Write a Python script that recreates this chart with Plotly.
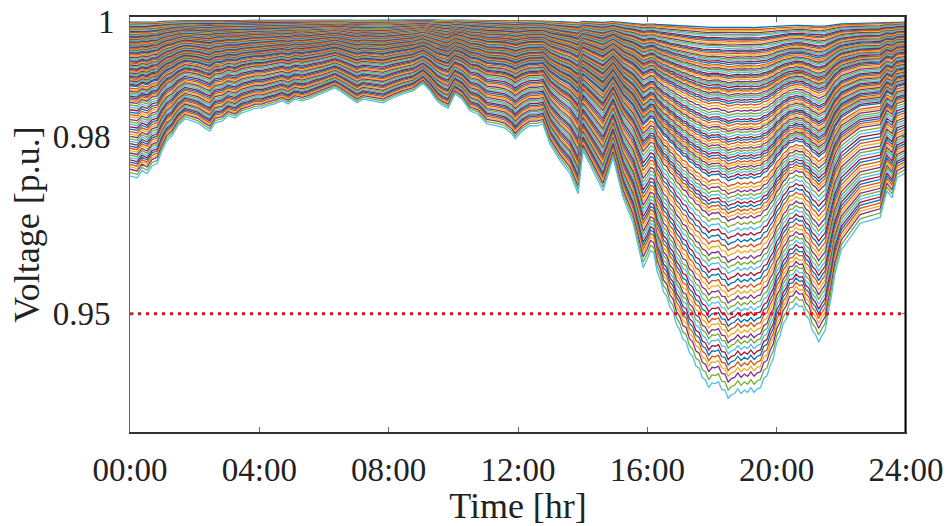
import plotly.graph_objects as go

# Lower-envelope (deepest bus) voltage profile
time_hr = [0.00, 0.22, 0.37, 0.53, 0.68, 0.84, 0.99, 1.14, 1.30, 1.48, 1.70, 1.92, 2.10, 2.32, 2.47,
           2.63, 2.85, 3.03, 3.25, 3.46, 3.65, 3.87, 4.08, 4.27, 4.48, 4.70, 4.89, 5.10, 5.32, 5.51,
           5.72, 5.94, 6.12, 6.34, 6.50, 6.80, 7.02, 7.21, 7.52, 7.83, 8.13, 8.44, 8.75, 9.06, 9.28,
           9.50, 9.68, 9.84, 10.05, 10.27, 10.52, 10.76, 11.04, 11.35, 11.60, 11.82, 11.91, 12.12,
           12.37, 12.59, 12.77, 12.99, 13.30, 13.61, 13.86, 14.01, 14.32, 14.63, 14.94, 15.25, 15.56,
           15.87,
           16.0, 16.1, 16.2, 16.3, 16.4, 16.5, 16.6, 16.7, 16.8, 16.9,
           17.0, 17.1, 17.2, 17.3, 17.4, 17.5, 17.6, 17.7, 17.8, 17.9,
           18.0, 18.1, 18.2, 18.3, 18.4, 18.5, 18.6, 18.7, 18.8, 18.9,
           19.0, 19.1, 19.2, 19.3, 19.4, 19.5, 19.6, 19.7, 19.8, 19.9,
           20.0, 20.1, 20.2, 20.3, 20.4, 20.5, 20.6, 20.7, 20.8, 20.9,
           21.0, 21.1, 21.2, 21.3, 21.4, 21.5, 21.6, 21.7, 21.8, 21.9,
           22.0, 22.27, 22.58, 22.89, 23.20, 23.41, 23.57, 23.72, 24.00]
v_min = [0.9733, 0.9730, 0.9742, 0.9737, 0.9750, 0.9754, 0.9776, 0.9793, 0.9801, 0.9818, 0.9830,
         0.9826, 0.9823, 0.9814, 0.9809, 0.9823, 0.9826, 0.9835, 0.9831, 0.9840, 0.9843, 0.9848,
         0.9848, 0.9852, 0.9855, 0.9860, 0.9855, 0.9863, 0.9860, 0.9863, 0.9868, 0.9872, 0.9877,
         0.9882, 0.9877, 0.9865, 0.9857, 0.9863, 0.9860, 0.9857, 0.9865, 0.9872, 0.9877, 0.9890,
         0.9877, 0.9860, 0.9852, 0.9848, 0.9872, 0.9863, 0.9843, 0.9838, 0.9821, 0.9818, 0.9814,
         0.9804, 0.9796, 0.9809, 0.9818, 0.9818, 0.9821, 0.9787, 0.9759, 0.9737, 0.9703, 0.9776,
         0.9742, 0.9708, 0.9764, 0.9696, 0.9653, 0.9578,
         0.9593, 0.9607, 0.9603, 0.9572, 0.9558, 0.9537, 0.9530, 0.9511, 0.9503, 0.9482,
         0.9473, 0.9457, 0.9453, 0.9434, 0.9428, 0.9412, 0.9408, 0.9392, 0.9388, 0.9375,
         0.9383, 0.9382, 0.9385, 0.9372, 0.9371, 0.9357, 0.9363, 0.9365, 0.9373, 0.9365,
         0.9371, 0.9367, 0.9375, 0.9367, 0.9373, 0.9375, 0.9391, 0.9395, 0.9413, 0.9425,
         0.9451, 0.9462, 0.9483, 0.9492, 0.9508, 0.9509, 0.9518, 0.9512, 0.9513, 0.9497,
         0.9491, 0.9472, 0.9465, 0.9452, 0.9463, 0.9472, 0.9503, 0.9532, 0.9568, 0.9587,
         0.9608, 0.9629, 0.9653, 0.9658, 0.9663, 0.9708, 0.9696, 0.9730, 0.9739]

bus_drop_share = [
    0.025, 0.030, 0.034, 0.039, 0.043, 0.047, 0.053, 0.057, 0.061, 0.066, 0.071, 0.075, 0.080,
    0.086, 0.090, 0.094, 0.099, 0.104, 0.108, 0.112, 0.117, 0.122, 0.128, 0.131, 0.136, 0.140,
    0.145, 0.151, 0.155, 0.159, 0.164, 0.170, 0.174, 0.178, 0.183, 0.189, 0.193, 0.197, 0.203,
    0.208, 0.213, 0.219, 0.225, 0.232, 0.240, 0.248,
    0.256, 0.263, 0.271, 0.277, 0.284, 0.292, 0.298, 0.305, 0.313, 0.320, 0.326, 0.333, 0.341,
    0.348, 0.355, 0.362, 0.369, 0.376, 0.384, 0.391, 0.398, 0.405, 0.412, 0.420, 0.428,
    0.443, 0.453, 0.463, 0.474, 0.484, 0.494, 0.504, 0.514, 0.524, 0.534,
    0.550, 0.565, 0.580, 0.596, 0.611, 0.626, 0.642, 0.657, 0.672, 0.688, 0.703, 0.719, 0.734,
    0.749, 0.765, 0.780, 0.795, 0.810, 0.824, 0.839, 0.854, 0.868, 0.883, 0.898, 0.912, 0.927,
    0.942, 0.957, 0.978, 1.000]

v_limit = 0.95
x_tickvals = [0, 4, 8, 12, 16, 20, 24]
x_ticktext = ["00:00", "04:00", "08:00", "12:00", "16:00", "20:00", "24:00"]
y_tickvals = [0.95, 0.98, 1.0]
y_ticktext = ["0.95", "0.98", "1"]

colors = ["#0072BD", "#D95319", "#EDB120", "#7E2F8E", "#77AC30", "#4DBEEE", "#A2142F"]

fig = go.Figure()
for i, s in enumerate(bus_drop_share):
    yv = [1 - s * (1 - v) for v in v_min]
    fig.add_trace(go.Scatter(x=time_hr, y=yv, mode="lines",
                             line=dict(color=colors[i % 7], width=1.3),
                             showlegend=False, hoverinfo="skip"))

fig.add_trace(go.Scatter(x=[0, 24], y=[v_limit, v_limit], mode="lines",
                         line=dict(color="#E0101A", width=3, dash="3px,5px"),
                         showlegend=False, hoverinfo="skip"))

font_family = "Liberation Serif"
fig.update_layout(
    width=948, height=526,
    margin=dict(l=130, r=42, t=17, b=94),
    paper_bgcolor="white", plot_bgcolor="white",
    font=dict(family=font_family, size=33, color="#222"),
    xaxis=dict(range=[0, 24], tickvals=x_tickvals, ticktext=x_ticktext, automargin=False,
               showgrid=False, zeroline=False, showline=True, linecolor="#333", linewidth=1.5,
               mirror="ticks", ticks="inside", ticklen=5, tickcolor="#666",
               ticklabelstandoff=8, ticklabeloverflow="allow",
               title=dict(text="Time [hr]", standoff=0, font=dict(size=36))),
    yaxis=dict(range=[0.93, 1.0002], tickvals=y_tickvals[:2], ticktext=y_ticktext[:2],
               automargin=False,
               showgrid=False, zeroline=False, showline=True, linecolor="#666", linewidth=1,
               mirror="ticks", ticks="inside", ticklen=4, tickcolor="#666",
               ticklabelstandoff=12,
               title=dict(text="Voltage [p.u.]", standoff=2, font=dict(size=36))),
)
# top tick label drawn as annotation so it stays fully inside the page
fig.add_annotation(text=y_ticktext[2], x=0, xref="paper", xanchor="right", xshift=-13,
                   y=y_tickvals[2], yref="y", yanchor="middle", yshift=-4,
                   showarrow=False, font=dict(family=font_family, size=33, color="#222"))
# thick right border as in reference
fig.add_shape(type="line", xref="x", yref="paper", x0=24, x1=24, y0=0, y1=1,
              line=dict(color="black", width=3))

fig.write_html("out.html", config={"displayModeBar": False},
               post_script="document.body.style.margin='0px';")
